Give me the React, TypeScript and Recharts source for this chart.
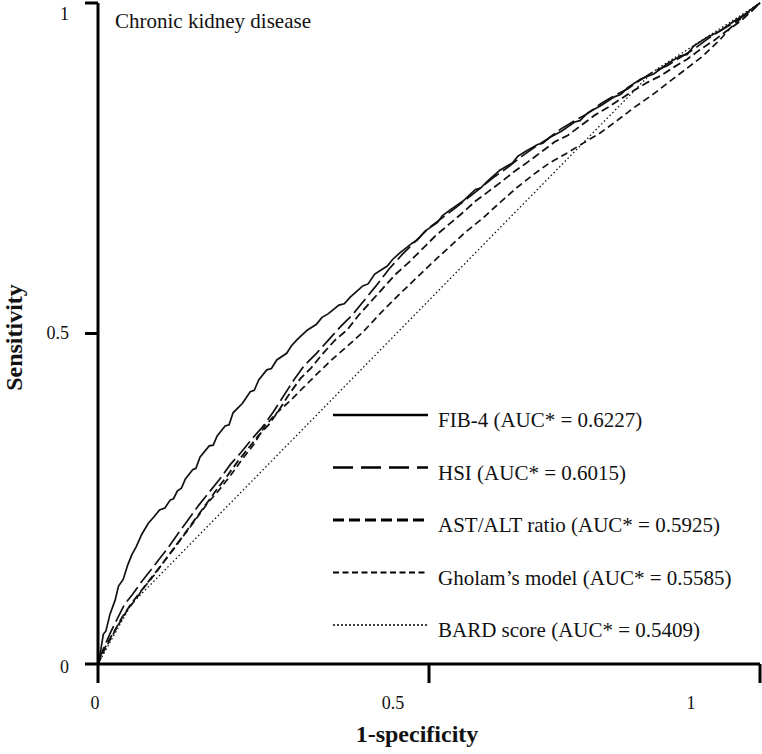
import React from 'react';
import { LineChart, Line, XAxis, YAxis, Legend, Label } from 'recharts';

// ROC points as [1-specificity, sensitivity]
const fib4Roc = [
  [0, 0], [0.004, 0.02], [0.008, 0.045], [0.012, 0.05], [0.018, 0.075], [0.026, 0.097],
  [0.031, 0.118], [0.038, 0.128], [0.045, 0.15], [0.051, 0.165], [0.058, 0.178], [0.066, 0.196],
  [0.076, 0.213], [0.084, 0.222], [0.093, 0.233], [0.101, 0.236], [0.109, 0.248], [0.114, 0.25],
  [0.12, 0.262], [0.126, 0.266], [0.132, 0.28], [0.143, 0.294], [0.148, 0.296], [0.154, 0.313],
  [0.168, 0.33], [0.174, 0.331], [0.18, 0.345], [0.192, 0.36], [0.198, 0.362], [0.204, 0.38],
  [0.218, 0.394], [0.23, 0.412], [0.236, 0.414], [0.243, 0.43], [0.255, 0.445], [0.262, 0.447],
  [0.27, 0.46], [0.285, 0.47], [0.292, 0.481], [0.3, 0.49], [0.316, 0.505], [0.33, 0.514],
  [0.338, 0.524], [0.348, 0.53], [0.364, 0.543], [0.372, 0.545], [0.381, 0.555], [0.4, 0.572],
  [0.408, 0.575], [0.418, 0.59], [0.437, 0.602], [0.445, 0.612], [0.456, 0.622], [0.475, 0.637],
  [0.482, 0.641], [0.494, 0.655], [0.513, 0.668], [0.52, 0.678], [0.532, 0.687], [0.551, 0.7],
  [0.57, 0.718], [0.578, 0.72], [0.588, 0.73], [0.607, 0.747], [0.626, 0.758], [0.634, 0.768],
  [0.645, 0.775], [0.664, 0.786], [0.672, 0.788], [0.683, 0.797], [0.7, 0.806], [0.72, 0.82],
  [0.728, 0.822], [0.74, 0.834], [0.76, 0.845], [0.78, 0.858], [0.79, 0.862], [0.8, 0.872],
  [0.82, 0.885], [0.84, 0.893], [0.86, 0.908], [0.88, 0.92], [0.89, 0.922], [0.9, 0.935],
  [0.92, 0.948], [0.94, 0.958], [0.96, 0.972], [0.98, 0.985], [0.99, 0.993], [1, 1],
];

const hsiRoc = [
  [0, 0], [0.006, 0.018], [0.012, 0.032], [0.02, 0.05], [0.03, 0.07], [0.04, 0.09],
  [0.052, 0.105], [0.064, 0.122], [0.078, 0.14], [0.092, 0.158], [0.106, 0.176], [0.12, 0.196],
  [0.136, 0.218], [0.152, 0.24], [0.168, 0.26], [0.184, 0.28], [0.2, 0.302], [0.216, 0.32],
  [0.232, 0.34], [0.248, 0.358], [0.264, 0.38], [0.28, 0.405], [0.296, 0.43], [0.312, 0.452],
  [0.33, 0.47], [0.348, 0.49], [0.366, 0.51], [0.384, 0.528], [0.402, 0.55], [0.42, 0.572],
  [0.44, 0.598], [0.46, 0.62], [0.48, 0.64], [0.5, 0.66], [0.52, 0.675], [0.54, 0.69],
  [0.56, 0.706], [0.58, 0.722], [0.6, 0.738], [0.62, 0.752], [0.64, 0.768], [0.66, 0.782],
  [0.68, 0.795], [0.7, 0.81], [0.72, 0.822], [0.74, 0.833], [0.76, 0.848], [0.78, 0.86],
  [0.8, 0.87], [0.82, 0.884], [0.84, 0.897], [0.86, 0.905], [0.88, 0.918], [0.9, 0.93],
  [0.92, 0.945], [0.94, 0.958], [0.96, 0.97], [0.98, 0.984], [1, 1],
];

const astAltRoc = [
  [0, 0], [0.008, 0.02], [0.016, 0.035], [0.026, 0.052], [0.036, 0.07], [0.048, 0.088],
  [0.06, 0.104], [0.074, 0.122], [0.088, 0.14], [0.102, 0.158], [0.116, 0.176], [0.13, 0.196],
  [0.146, 0.218], [0.162, 0.24], [0.178, 0.262], [0.194, 0.283], [0.21, 0.305], [0.226, 0.325],
  [0.242, 0.345], [0.258, 0.362], [0.274, 0.385], [0.29, 0.41], [0.306, 0.432], [0.322, 0.448],
  [0.34, 0.47], [0.358, 0.49], [0.376, 0.505], [0.394, 0.528], [0.412, 0.548], [0.43, 0.568],
  [0.45, 0.59], [0.47, 0.608], [0.49, 0.628], [0.51, 0.648], [0.53, 0.665], [0.55, 0.682],
  [0.57, 0.7], [0.59, 0.715], [0.61, 0.73], [0.63, 0.746], [0.65, 0.76], [0.67, 0.775],
  [0.69, 0.79], [0.71, 0.8], [0.73, 0.815], [0.75, 0.83], [0.77, 0.842], [0.79, 0.855],
  [0.81, 0.868], [0.83, 0.88], [0.85, 0.89], [0.87, 0.903], [0.89, 0.915], [0.91, 0.93],
  [0.93, 0.943], [0.95, 0.958], [0.97, 0.972], [0.99, 0.99], [1, 1],
];

const gholamRoc = [
  [0, 0], [0.008, 0.018], [0.018, 0.036], [0.03, 0.058], [0.042, 0.078], [0.056, 0.097],
  [0.07, 0.116], [0.086, 0.136], [0.102, 0.158], [0.118, 0.18], [0.134, 0.2], [0.15, 0.222],
  [0.166, 0.244], [0.182, 0.262], [0.2, 0.285], [0.218, 0.31], [0.236, 0.333], [0.252, 0.36],
  [0.27, 0.38], [0.29, 0.398], [0.31, 0.418], [0.332, 0.44], [0.355, 0.462], [0.378, 0.482],
  [0.4, 0.502], [0.428, 0.532], [0.456, 0.56], [0.482, 0.585], [0.508, 0.61], [0.532, 0.632],
  [0.557, 0.655], [0.582, 0.675], [0.607, 0.698], [0.632, 0.72], [0.657, 0.74], [0.682, 0.758],
  [0.707, 0.772], [0.733, 0.788], [0.758, 0.803], [0.784, 0.822], [0.81, 0.842], [0.836, 0.86],
  [0.862, 0.88], [0.888, 0.9], [0.914, 0.92], [0.94, 0.945], [0.955, 0.962], [0.975, 0.98], [1, 1],
];

const bardRoc = [[0, 0], [0.05, 0.09], [0.838, 0.896], [1, 1]];

const axisTicks = [0, 0.5, 1];
const chartTitle = 'Chronic kidney disease';
const xTitle = '1-specificity';
const yTitle = 'Sensitivity';

const toPoints = (roc: number[][]) => roc.map(([fpr, tpr]) => ({ fpr, tpr }));

const FONT = '"Liberation Serif", "Times New Roman", serif';

const series = [
  { key: 'fib4', label: 'FIB-4 (AUC* = 0.6227)', data: toPoints(fib4Roc), dash: undefined, width: 1.7, legendDash: undefined, legendWidth: 2.5 },
  { key: 'hsi', label: 'HSI (AUC* = 0.6015)', data: toPoints(hsiRoc), dash: '18 5', width: 1.7, legendDash: '20 8', legendWidth: 2.5 },
  { key: 'astalt', label: 'AST/ALT ratio (AUC* = 0.5925)', data: toPoints(astAltRoc), dash: '8 4', width: 1.8, legendDash: '11 5', legendWidth: 3 },
  { key: 'gholam', label: 'Gholam\u2019s model (AUC* = 0.5585)', data: toPoints(gholamRoc), dash: '7 4', width: 1.7, legendDash: '6 3.5', legendWidth: 2 },
  { key: 'bard', label: 'BARD score (AUC* = 0.5409)', data: toPoints(bardRoc), dash: '1.5 2.5', width: 1.3, legendDash: '2 2', legendWidth: 1.5 },
];

const XTick = ({ x, y, payload }: any) => (
  <text x={x - 3 - payload.value * 66} y={y + 24} textAnchor="middle" fontSize={18} fill="#111" fontFamily={FONT}>
    {String(payload.value)}
  </text>
);

const YTick = ({ x, y, payload }: any) => {
  const v = payload.value;
  const dy = v === 1 ? 17 : v === 0 ? 9 : 5;
  return (
    <text x={x - 14} y={y + dy} textAnchor="end" fontSize={18} fill="#111" fontFamily={FONT}>
      {String(v)}
    </text>
  );
};

const renderLegend = () => (
  <svg width={432} height={250} style={{ overflow: 'visible' }}>
    {series.map((s, i) => {
      const ly = 15 + i * 52.5;
      return (
        <g key={s.key}>
          <line x1={3} x2={98} y1={ly} y2={ly} stroke="#000" strokeWidth={s.legendWidth} strokeDasharray={s.legendDash} />
          <text x={108} y={ly + 12} fontSize={21} fill="#111" fontFamily={FONT}>
            {s.label}
          </text>
        </g>
      );
    })}
  </svg>
);

export default function App() {
  return (
    <div style={{ position: 'absolute', left: 0, top: 0, width: 762, height: 754, background: '#fff' }}>
      <div
        style={{ position: 'absolute', left: 115, top: 11, fontFamily: FONT, fontSize: 21, lineHeight: '21px', color: '#111', zIndex: 2 }}
      >
        {chartTitle}
      </div>
      <LineChart width={762} height={754} margin={{ top: 3, right: 2, left: 38, bottom: 50 }}>
        <XAxis
          dataKey="fpr"
          type="number"
          domain={[0, 1]}
          ticks={axisTicks}
          height={40}
          axisLine={{ stroke: '#000', strokeWidth: 3 }}
          tickLine={{ stroke: '#000', strokeWidth: 3 }}
          tickSize={19}
          tick={<XTick />}
          interval={0}
        >
          <Label
            content={(p: any) => {
              const vb = p.viewBox || { x: 98, y: 664, width: 662, height: 40 };
              return (
                <text x={vb.x + vb.width / 2 - 12} y={vb.y + vb.height + 38} textAnchor="middle" fontSize={24} fontWeight="bold" fill="#111" fontFamily={FONT}>
                  {xTitle}
                </text>
              );
            }}
          />
        </XAxis>
        <YAxis
          type="number"
          domain={[0, 1]}
          ticks={axisTicks}
          width={60}
          axisLine={{ stroke: '#000', strokeWidth: 3 }}
          tickLine={{ stroke: '#000', strokeWidth: 3 }}
          tickSize={13}
          tick={<YTick />}
          interval={0}
        >
          <Label
            content={(p: any) => {
              const vb = p.viewBox || { x: 38, y: 3, width: 60, height: 661 };
              const cy = vb.y + vb.height / 2 + 4;
              const cx = vb.x - 16;
              return (
                <text x={cx} y={cy} transform={`rotate(-90 ${cx} ${cy})`} textAnchor="middle" fontSize={24} fontWeight="bold" fill="#111" fontFamily={FONT}>
                  {yTitle}
                </text>
              );
            }}
          />
        </YAxis>
        <Legend
          content={renderLegend}
          layout="vertical"
          align="center"
          verticalAlign="middle"
          wrapperStyle={{ left: 330, top: 400, width: 432, height: 250 }}
        />
        {series.map((s) => (
          <Line
            key={s.key}
            data={s.data}
            dataKey="tpr"
            type="linear"
            dot={false}
            activeDot={false}
            stroke="#111"
            strokeWidth={s.width}
            strokeDasharray={s.dash}
            isAnimationActive={false}
          />
        ))}
      </LineChart>
    </div>
  );
}
